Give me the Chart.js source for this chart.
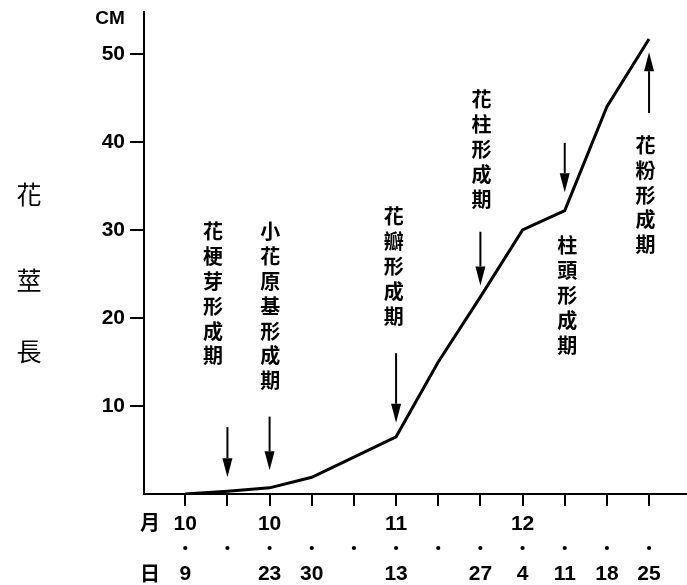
<!DOCTYPE html>
<html>
<head>
<meta charset="utf-8">
<script src="https://cdn.jsdelivr.net/npm/chart.js@4/dist/chart.umd.min.js"></script>
<style>
html, body { margin: 0; padding: 0; background: #fff; }
#wrap { width: 687px; height: 585px; }
</style>
</head>
<body>
<div id="wrap"><canvas id="chart"></canvas></div>
<script>
// days counted from Oct 9
const tickDays = [0, 7, 14, 21, 28, 35, 42, 49, 56, 63, 70, 77];
const monthLabels = ['10', '', '10', '', '', '11', '', '', '12', '', '', ''];
const dayLabels = ['9', '', '23', '30', '', '13', '', '27', '4', '11', '18', '25'];
const stemLength = [0, 0.3, 0.7, 1.9, 4.2, 6.5, 15.0, 22.4, 30.0, 32.2, 44.0, 51.7];
const yTicks = [10, 20, 30, 40, 50];

const stageNames = ['花梗芽形成期', '小花原基形成期', '花瓣形成期', '花柱形成期', '柱頭形成期', '花粉形成期'];
const stageDays = [7, 14, 35, 49, 63, 77];
const arrowFrom = [7.6, 8.8, 16.0, 29.8, 39.9, 43.3];
const arrowTo = [1.9, 2.7, 8.1, 23.7, 34.3, 50.2];
const textDays = [4.6, 14.1, 34.6, 49.2, 63.4, 76.4];
const textTop = [29.8, 29.8, 31.5, 44.8, 28.2, 39.6];

const cjk = '"Noto Sans CJK TC", "Noto Sans CJK JP", sans-serif';
const latin = '"Liberation Sans", Arial, sans-serif';

const annotate = {
    id: 'annotate',
    afterDraw(chart) {
        const ctx = chart.ctx;
        const xs = chart.scales.x;
        const ys = chart.scales.y;
        ctx.save();
        ctx.fillStyle = '#000';
        ctx.strokeStyle = '#000';

        // arrows
        stageDays.forEach((d, i) => {
            const x = xs.getPixelForValue(d);
            const y1 = ys.getPixelForValue(arrowFrom[i]);
            const y2 = ys.getPixelForValue(arrowTo[i]);
            const dir = y2 > y1 ? 1 : -1;
            const head = 19;
            ctx.lineWidth = 2;
            ctx.beginPath();
            ctx.moveTo(x, y1);
            ctx.lineTo(x, y2 - dir * head);
            ctx.stroke();
            ctx.beginPath();
            ctx.moveTo(x, y2);
            ctx.lineTo(x - 5, y2 - dir * head);
            ctx.lineTo(x + 5, y2 - dir * head);
            ctx.closePath();
            ctx.fill();
        });

        // separator dots between month and day rows
        tickDays.forEach(d => {
            ctx.beginPath();
            ctx.arc(xs.getPixelForValue(d), 548, 2.1, 0, Math.PI * 2);
            ctx.fill();
        });

        // vertical stage names
        ctx.font = 'bold 20px ' + cjk;
        ctx.textAlign = 'center';
        ctx.textBaseline = 'middle';
        stageNames.forEach((name, i) => {
            const x = xs.getPixelForValue(textDays[i]);
            const y0 = ys.getPixelForValue(textTop[i]);
            Array.from(name).forEach((ch, k) => {
                ctx.fillText(ch, x, y0 + k * 24.8);
            });
        });

        // left title
        ctx.font = '25px ' + cjk;
        ctx.fillText('花', 29, 194);
        ctx.fillText('莖', 29, 280);
        ctx.fillText('長', 29, 351);

        // unit
        ctx.font = 'bold 19px ' + latin;
        ctx.fillText('CM', 110, 19);

        // row headers under x axis
        ctx.font = 'bold 20px ' + cjk;
        ctx.fillText('月', 150, 522);
        ctx.fillText('日', 150, 573);
        ctx.restore();
    }
};

new Chart(document.getElementById('chart'), {
    type: 'line',
    data: {
        datasets: [{
            data: tickDays.map((d, i) => ({ x: d, y: stemLength[i] })),
            borderColor: '#000',
            borderWidth: 3,
            pointRadius: 0,
            tension: 0,
            fill: false
        }]
    },
    options: {
        responsive: true,
        maintainAspectRatio: false,
        animation: false,
        layout: { padding: { top: 12, right: 0, left: 0, bottom: 0 } },
        plugins: {
            legend: { display: false },
            tooltip: { enabled: false }
        },
        scales: {
            x: {
                type: 'linear',
                min: -6.85,
                max: 83.3,
                afterBuildTicks: s => { s.ticks = tickDays.map(v => ({ value: v })); },
                afterFit: s => {
                    s.height = 91;
                    s.paddingLeft = 0;
                    s.paddingRight = 0;
                },
                grid: { drawOnChartArea: false, drawTicks: true, tickLength: 12, color: '#000', lineWidth: 2 },
                border: { color: '#000', width: 2 },
                ticks: {
                    autoSkip: false,
                    maxRotation: 0,
                    padding: 5,
                    color: '#000',
                    font: { family: latin, size: 21, weight: 'bold', lineHeight: 1.21 },
                    callback: v => {
                        const i = tickDays.indexOf(v);
                        return [monthLabels[i], ' ', dayLabels[i]];
                    }
                }
            },
            y: {
                min: 0,
                max: 54.77,
                afterBuildTicks: s => { s.ticks = yTicks.map(v => ({ value: v })); },
                afterFit: s => {
                    s.width = 144;
                    s.paddingTop = 0;
                    s.paddingBottom = 0;
                },
                grid: { drawOnChartArea: false, drawTicks: true, tickLength: 14, color: '#000', lineWidth: 2 },
                border: { color: '#000', width: 2 },
                ticks: {
                    padding: 5,
                    color: '#000',
                    font: { family: latin, size: 21, weight: 'bold' }
                }
            }
        }
    },
    plugins: [annotate]
});
</script>
</body>
</html>
